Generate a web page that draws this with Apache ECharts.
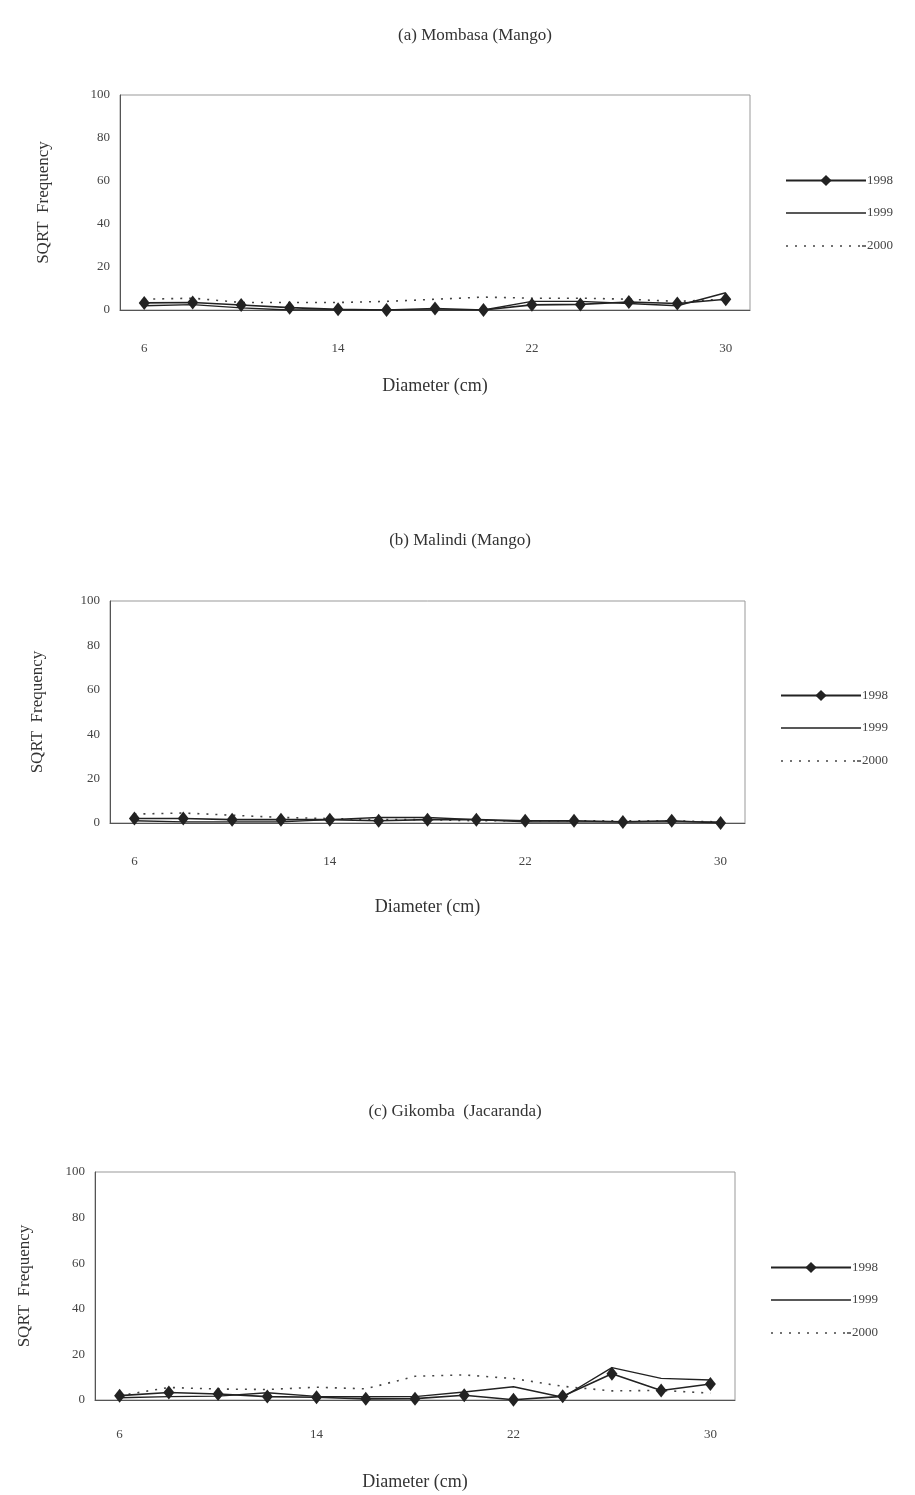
<!DOCTYPE html>
<html><head><meta charset="utf-8">
<script src="https://cdn.jsdelivr.net/npm/echarts@6/dist/echarts.min.js"></script>
<style>html,body{margin:0;padding:0;background:#fff}#c{width:915px;height:1495px}</style>
</head><body><div id="c"></div>
<script>
var diameters = ['6','8','10','12','14','16','18','20','22','24','26','28','30'];
var yearNames = ['1998','1999','2000'];
var panelTitles = ['(a) Mombasa (Mango)', '(b) Malindi (Mango)', '(c) Gikomba  (Jacaranda)'];
var xAxisTitle = 'Diameter (cm)';
var yAxisTitle = 'SQRT  Frequency';

var mombasa1998 = [3.3, 3.5, 2.3, 1.1, 0.3, 0, 0.7, 0, 2.4, 2.6, 3.7, 3.0, 5.0];
var mombasa1999 = [2, 2.5, 1, 0, 0, 0, 0, 0, 4, 4, 3, 2, 8];
var mombasa2000 = [5, 5.5, 3.5, 3.5, 3.5, 4, 5, 6, 5.5, 5.5, 5, 4, 5];

var malindi1998 = [2, 2, 1.5, 1.5, 1.5, 1, 1.5, 1.5, 1, 1, 0.5, 1, 0];
var malindi1999 = [1, 0.5, 0.5, 0.5, 1.5, 2.5, 2.5, 1.5, 0.5, 0.5, 0.5, 0.5, 0.5];
var malindi2000 = [4, 4.5, 3.5, 2.5, 2, 1.5, 1.5, 1, 1, 1, 1, 1, 0.5];

var gikomba1998 = [1.9, 3.3, 2.6, 1.5, 1.2, 0.5, 0.6, 2.1, 0.1, 1.6, 11.5, 4.2, 7.0];
var gikomba1999 = [1.0, 1.5, 1.7, 3.2, 1.6, 1.4, 1.5, 3.5, 5.8, 1.2, 14.2, 9.5, 8.8];
var gikomba2000 = [1.9, 5.5, 4.8, 4.6, 5.6, 4.9, 10.4, 11.0, 9.4, 6.0, 4.0, 4.2, 3.0];

var panelData = [
  [mombasa1998, mombasa1999, mombasa2000],
  [malindi1998, malindi1999, malindi2000],
  [gikomba1998, gikomba1999, gikomba2000]
];

var FONT = '"Liberation Serif", "DejaVu Serif", serif';
var INK = '#222';
var AX = '#555';

// legend icons (line only, dotted line)
var solidIcon = 'path://M0,0L0.01,0L0.01,0.01Z M79.99,14L80,14L80,13.99Z M0,6.2L80,6.2L80,7.8L0,7.8Z';
var dotIcon = (function(){
  var p = 'path://M0,0L0.01,0L0.01,0.01Z M79.99,14L80,14L80,13.99Z';
  for (var x = 0; x < 78; x += 9) { p += ' M' + x + ',6.2L' + (x+2) + ',6.2L' + (x+2) + ',7.8L' + x + ',7.8Z'; }
  p += ' M76,6.2L80,6.2L80,7.8L76,7.8Z';
  return p;
})();

var layout = [
  {grid:{left:120, top:95, width:630, height:215}, title:{x:470, y:22}, legend:{x:780, y:169}, yName:68, xName:67, xMargin:32},
  {grid:{left:110, top:601, width:635, height:222}, title:{x:455, y:527}, legend:{x:775, y:684}, yName:64, xName:75, xMargin:32},
  {grid:{left:95, top:1172, width:640, height:228}, title:{x:450, y:1098}, legend:{x:765, y:1256}, yName:62, xName:73, xMargin:28}
];

var option = {animation:false, backgroundColor:'#fff', title:[], grid:[], xAxis:[], yAxis:[], legend:[], series:[]};

layout.forEach(function(L, i){
  option.title.push({text: panelTitles[i], left: L.title.x, top: L.title.y, textAlign:'center',
    textStyle:{fontFamily:FONT, fontSize:17, fontWeight:'normal', color:'#333'}});
  option.grid.push({left:L.grid.left, top:L.grid.top, width:L.grid.width, height:L.grid.height,
    show:true, borderColor:'#999', borderWidth:1, backgroundColor:'transparent'});
  option.xAxis.push({type:'category', gridIndex:i, data:diameters, boundaryGap:true,
    name:xAxisTitle, nameLocation:'middle', nameGap:L.xName,
    nameTextStyle:{fontFamily:FONT, fontSize:18, color:'#333'},
    axisLine:{show:true, lineStyle:{color:AX, width:1}}, axisTick:{show:false},
    axisLabel:{interval:3, margin:L.xMargin, fontFamily:FONT, fontSize:13, color:'#444'},
    splitLine:{show:false}});
  option.yAxis.push({type:'value', gridIndex:i, min:0, max:100, interval:20,
    name:yAxisTitle, nameLocation:'middle', nameGap:L.yName, nameRotate:90,
    nameTextStyle:{fontFamily:FONT, fontSize:17, color:'#333'},
    axisLine:{show:true, lineStyle:{color:AX, width:1}}, axisTick:{show:false},
    axisLabel:{margin:10, fontFamily:FONT, fontSize:13, color:'#444'},
    splitLine:{show:false}});
  option.legend.push({orient:'vertical', left:L.legend.x, top:L.legend.y, itemWidth:80, itemHeight:14, itemGap:19,
    data:[{name:yearNames[0]}, {name:yearNames[1], icon:solidIcon}, {name:yearNames[2], icon:dotIcon}],
    selectedMode:false,
    textStyle:{fontFamily:FONT, fontSize:13, color:'#444', padding:[0,0,0,-4]}});
  var d = panelData[i];
  option.series.push({name:yearNames[0], type:'line', xAxisIndex:i, yAxisIndex:i, data:d[0],
    symbol:'diamond', symbolSize:[11,14], showSymbol:true,
    itemStyle:{color:INK}, lineStyle:{color:INK, width:1.6}, z:5});
  option.series.push({name:yearNames[1], type:'line', xAxisIndex:i, yAxisIndex:i, data:d[1],
    symbol:'none', itemStyle:{color:INK}, lineStyle:{color:INK, width:1.4}, z:4});
  option.series.push({name:yearNames[2], type:'line', xAxisIndex:i, yAxisIndex:i, data:d[2],
    symbol:'none', itemStyle:{color:'#444'}, lineStyle:{color:'#444', width:1.6, type:[2,7]}, z:3});
});

var chart = echarts.init(document.getElementById('c'), null, {renderer:'canvas'});
chart.setOption(option);
</script>
</body></html>
